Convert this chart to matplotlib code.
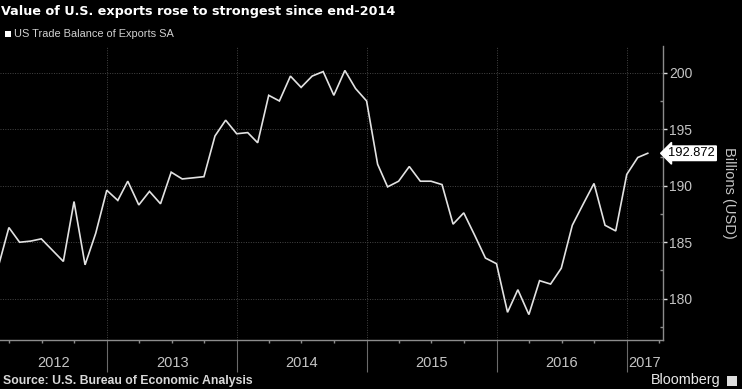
import matplotlib
matplotlib.use("Agg")
import matplotlib.pyplot as plt
import matplotlib.dates as mdates
from matplotlib.patches import Rectangle
import numpy as np
import pandas as pd

# ---- data ----
start_month = "2012-02-29"
exports = [182.7, 186.3, 185.0, 185.1, 185.3, 184.3, 183.3, 188.6, 183.0, 185.8,
           189.6, 188.7, 190.4, 188.3, 189.5, 188.4, 191.2, 190.6, 190.7, 190.8,
           194.4, 195.8, 194.6, 194.7, 193.8, 198.0, 197.5, 199.7, 198.7, 199.7,
           200.1, 198.0, 200.2, 198.6, 197.5, 191.9, 189.9, 190.4, 191.7, 190.4,
           190.4, 190.1, 186.6, 187.6, 185.6, 183.6, 183.1, 178.8, 180.8, 178.6,
           181.6, 181.3, 182.7, 186.5, 188.4, 190.2, 186.5, 186.0, 191.0, 192.5,
           192.872]
dates = pd.date_range(start_month, periods=len(exports), freq="ME")
year_labels = ["2012", "2013", "2014", "2015", "2016", "2017"]
y_ticks = [180, 185, 190, 195, 200]
last_label = "192.872"
title = "Value of U.S. exports rose to strongest since end-2014"
legend_label = "US Trade Balance of Exports SA"
source = "Source: U.S. Bureau of Economic Analysis"
ylabel = "Billions (USD)"

W, H = 742, 389
fig = plt.figure(figsize=(W / 100, H / 100), dpi=100, facecolor="black")
ax = fig.add_axes([0.0, 1 - 340 / H, 662.7 / W, (340 - 45.7) / H])
ax.set_facecolor("black")

narrow = ["Liberation Sans Narrow", "Liberation Sans", "DejaVu Sans"]
tick_col = "#c4c4c4"

ax.plot(dates, exports, color="#e2e2e2", lw=1.2, solid_joinstyle="miter", zorder=3)

xmin = pd.Timestamp("2012-03-06")
xmax = pd.Timestamp("2017-04-11")
ax.set_xlim(xmin, xmax)
ax.set_ylim(176.35, 202.39)

# spines
for s in ["left", "top"]:
    ax.spines[s].set_visible(False)
for s in ["bottom", "right"]:
    ax.spines[s].set_color("#8c8c8c")
    ax.spines[s].set_linewidth(1.0)

# y axis on the right
ax.yaxis.tick_right()
ax.set_yticks(y_ticks)
ax.set_yticklabels([str(t) for t in y_ticks])
ax.yaxis.set_minor_locator(matplotlib.ticker.MultipleLocator(2.5))
ax.tick_params(axis="y", which="major", direction="out", length=3, width=1,
               color="#dddddd", labelcolor=tick_col, pad=1.5, labelsize=10)
ax.tick_params(axis="y", which="minor", direction="in", length=2, width=1,
               color="#8c8c8c")
for lab in ax.get_yticklabels():
    lab.set_family(narrow)

# x axis: year separators as long major ticks, quarterly minor ticks
ax.xaxis.set_major_locator(mdates.YearLocator())
ax.xaxis.set_minor_locator(mdates.MonthLocator(bymonth=[4, 7, 10]))
ax.xaxis.set_major_formatter(matplotlib.ticker.NullFormatter())
ax.tick_params(axis="x", which="major", direction="out", length=23, width=0.8,
               color="#6a6a6a")
ax.tick_params(axis="x", which="minor", direction="out", length=2, width=1,
               color="#8c8c8c")

# grid
ax.grid(True, which="major", axis="both", color="#454545", lw=0.7,
        ls=(0, (1, 1.5)))

# year labels centred in their visible spans
trans = matplotlib.transforms.blended_transform_factory(ax.transData, ax.transAxes)
for y in year_labels:
    a = max(pd.Timestamp(f"{y}-01-01"), xmin)
    b = min(pd.Timestamp(f"{int(y) + 1}-01-01"), xmax)
    mid = a + (b - a) / 2
    ax.text(mdates.date2num(mid), -23 / 294, y, transform=trans, ha="center",
            va="center", color=tick_col, fontsize=10.5, family=narrow)

# last-value tag
ax.annotate(last_label, xy=(1.0, exports[-1]), xycoords=("axes fraction", "data"),
            xytext=(4, 0), textcoords="offset points", ha="left", va="center",
            fontsize=9.3, family=narrow, color="black",
            bbox=dict(boxstyle="larrow,pad=0.1", fc="white", ec="white"),
            annotation_clip=False)

# right-side axis label
fig.text(729 / W, 1 - 193 / H, ylabel, rotation=270, ha="center", va="center",
         color=tick_col, fontsize=10.5, family=narrow)

# title, legend, source, brand
t = fig.text(1 / W, 1 - 11 / H, title, ha="left", va="center", color="white",
             fontsize=13, fontweight="bold", family=["Liberation Sans Narrow", "DejaVu Sans"])
fig.add_artist(Rectangle((5 / W, 1 - 37 / H), 6 / W, 6 / H, transform=fig.transFigure,
                         fc="white", ec="none"))
lt = fig.text(14 / W, 1 - 34 / H, legend_label, ha="left", va="center",
              color="#d0d0d0", fontsize=9, family=narrow)
st = fig.text(3 / W, 1 - 381 / H, source, ha="left", va="center", color="#d8d8d8",
              fontsize=8.5, fontweight="bold", family=["Liberation Sans", "DejaVu Sans"])
bt = fig.text(720 / W, 1 - 380 / H, "Bloomberg", ha="right", va="center",
              color="#e8e8e8", fontsize=10, family=narrow)
fig.add_artist(Rectangle((727 / W, 1 - 386 / H), 10 / W, 10 / H, transform=fig.transFigure,
                         fc="#dddddd", ec="none"))

# fit text widths to the reference
fig.canvas.draw()
r = fig.canvas.get_renderer()
for txt, target in [(t, 393), (lt, 161), (st, 250), (bt, 70)]:
    w = txt.get_window_extent(r).width
    txt.set_fontsize(txt.get_fontsize() * target / w)

fig.savefig("out.png", dpi=100, facecolor="black")
